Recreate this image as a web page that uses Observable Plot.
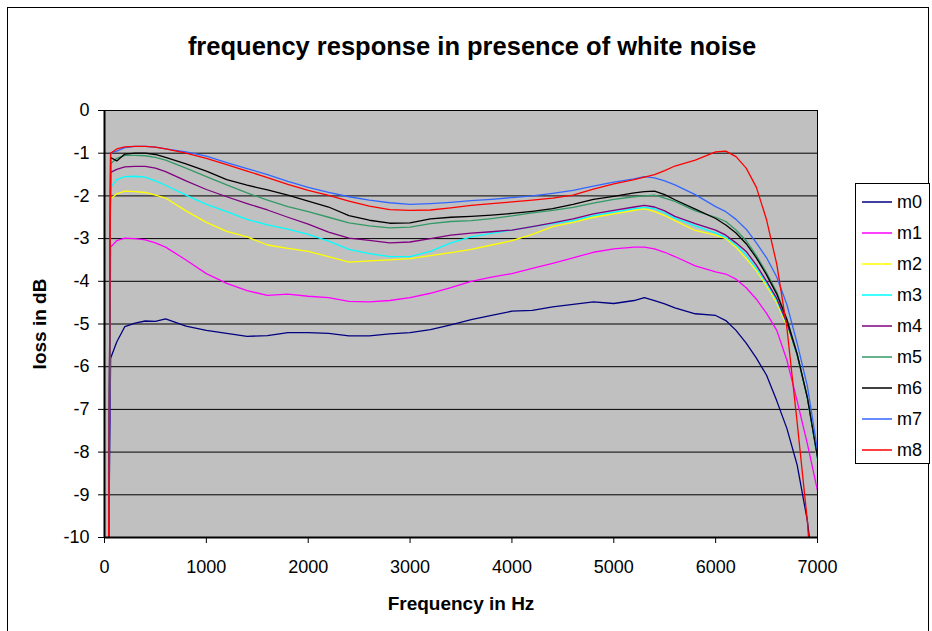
<!DOCTYPE html>
<html>
<head>
<meta charset="utf-8">
<script src="https://cdn.jsdelivr.net/npm/d3@7"></script>
<script src="https://cdn.jsdelivr.net/npm/@observablehq/plot@0.6"></script>
<style>
  html, body { margin: 0; padding: 0; background: #fff; }
  #wrap { position: relative; width: 932px; height: 631px; overflow: hidden; font-family: "Liberation Sans", Arial, sans-serif; }
  #border { position: absolute; left: 7px; top: 7px; width: 922px; height: 700px; border: 1px solid #000; box-sizing: border-box; }
  #title { position: absolute; left: 0; width: 944px; top: 32px; text-align: center; font-weight: bold; font-size: 25.5px; color: #000; }
  #chart { position: absolute; left: 0; top: 0; }
  #chart [aria-label="x-axis label"], #chart [aria-label="y-axis label"] { font-weight: bold; font-size: 19px; }
  #legend { position: absolute; left: 855px; top: 183px; }
</style>
</head>
<body>
<div id="wrap">
  <div id="border"></div>
  <div id="chart"></div>
  <div id="title">frequency response in presence of white noise</div>
  <div id="legend"></div>
</div>
<script>
const freq = [40, 60, 120, 200, 300, 400, 500, 600, 800, 1000, 1200, 1400, 1600, 1800, 2000, 2200, 2400, 2600, 2800, 3000, 3200, 3400, 3600, 3800, 4000, 4200, 4400, 4600, 4800, 5000, 5200, 5300, 5400, 5500, 5600, 5800, 6000, 6100, 6200, 6300, 6400, 6500, 6600, 6700, 6800, 6900, 7000];

const m0 = [-10.5, -5.8, -5.42, -5.06, -4.98, -4.93, -4.94, -4.88, -5.05, -5.15, -5.22, -5.29, -5.27, -5.2, -5.2, -5.22, -5.28, -5.28, -5.23, -5.2, -5.13, -5.02, -4.9, -4.8, -4.7, -4.68, -4.6, -4.54, -4.48, -4.52, -4.45, -4.38, -4.45, -4.53, -4.62, -4.76, -4.8, -4.92, -5.15, -5.45, -5.8, -6.2, -6.8, -7.45, -8.3, -9.6, -11.6];
const m1 = [-10.5, -3.2, -3.05, -2.99, -3.0, -3.03, -3.1, -3.2, -3.5, -3.82, -4.05, -4.22, -4.33, -4.3, -4.35, -4.38, -4.47, -4.48, -4.45, -4.38, -4.28, -4.15, -4.0, -3.9, -3.82, -3.7, -3.58, -3.45, -3.32, -3.24, -3.2, -3.2, -3.24, -3.32, -3.42, -3.64, -3.78, -3.83, -3.95, -4.15, -4.42, -4.75, -5.15, -5.85, -6.8, -7.8, -8.9];
const m2 = [-10.5, -2.07, -1.95, -1.89, -1.9, -1.92, -1.98, -2.05, -2.35, -2.62, -2.83, -2.96, -3.15, -3.23, -3.3, -3.42, -3.55, -3.52, -3.5, -3.47, -3.4, -3.33, -3.25, -3.15, -3.05, -2.9, -2.72, -2.62, -2.5, -2.42, -2.34, -2.3, -2.37, -2.46, -2.58, -2.81, -2.92, -3.0, -3.2, -3.47, -3.75, -4.1, -4.5, -5.05, -5.75, -6.75, -8.2];
const m3 = [-10.5, -1.8, -1.62, -1.55, -1.54, -1.56, -1.65, -1.75, -1.98, -2.2, -2.37, -2.55, -2.68, -2.78, -2.9, -3.06, -3.25, -3.35, -3.42, -3.42, -3.3, -3.1, -2.96, -2.88, -2.8, -2.72, -2.65, -2.58, -2.46, -2.38, -2.3, -2.27, -2.3, -2.4, -2.52, -2.7, -2.87, -2.97, -3.15, -3.38, -3.7, -4.05, -4.45, -5.0, -5.75, -6.75, -8.2];
const m4 = [-10.5, -1.45, -1.38, -1.32, -1.31, -1.31, -1.35, -1.43, -1.65, -1.85, -2.02, -2.18, -2.33, -2.5, -2.66, -2.85, -2.99, -3.04, -3.1, -3.08, -3.0, -2.92, -2.87, -2.84, -2.8, -2.72, -2.63, -2.54, -2.42, -2.34, -2.26, -2.22, -2.26, -2.35, -2.48, -2.65, -2.8, -2.92, -3.1, -3.3, -3.62, -4.0, -4.4, -4.98, -5.72, -6.72, -8.15];
const m5 = [-10.5, -1.25, -1.12, -1.05, -1.05, -1.06, -1.1, -1.16, -1.35, -1.55, -1.74, -1.93, -2.1, -2.25, -2.37, -2.5, -2.63, -2.7, -2.75, -2.73, -2.65, -2.6, -2.58, -2.53, -2.47, -2.4, -2.34, -2.27, -2.17, -2.08, -2.02, -2.0, -1.98, -2.05, -2.13, -2.35, -2.5, -2.6, -2.8, -3.05, -3.4, -3.8, -4.25, -4.88, -5.7, -6.72, -8.1];
const m6 = [-10.5, -1.1, -1.18, -1.02, -1.0, -1.0, -1.03, -1.1, -1.25, -1.42, -1.62, -1.75, -1.86, -1.98, -2.12, -2.26, -2.46, -2.57, -2.64, -2.63, -2.54, -2.5, -2.48, -2.45, -2.41, -2.36, -2.3, -2.2, -2.08, -2.01, -1.93, -1.9, -1.89, -1.97, -2.09, -2.31, -2.53, -2.68, -2.87, -3.12, -3.45, -3.85, -4.3, -4.9, -5.7, -6.72, -8.1];
const m7 = [-10.5, -1.0, -0.95, -0.87, -0.84, -0.84, -0.86, -0.9, -0.97, -1.07, -1.22, -1.36, -1.5, -1.66, -1.8, -1.92, -2.02, -2.1, -2.16, -2.2, -2.18, -2.15, -2.11, -2.08, -2.04, -2.0, -1.94, -1.87, -1.77, -1.68, -1.6, -1.55, -1.58, -1.65, -1.74, -1.97, -2.25, -2.37, -2.55, -2.78, -3.1, -3.45, -3.9, -4.55, -5.45, -6.45, -7.95];
const m8 = [-10.5, -1.0, -0.9, -0.85, -0.84, -0.84, -0.86, -0.9, -1.0, -1.12, -1.27, -1.42, -1.57, -1.73, -1.87, -1.99, -2.12, -2.24, -2.32, -2.34, -2.33, -2.28, -2.22, -2.18, -2.14, -2.1, -2.05, -1.98, -1.84, -1.72, -1.62, -1.56, -1.5, -1.41, -1.3, -1.16, -0.97, -0.95, -1.08, -1.35, -1.8, -2.56, -3.6, -5.1, -7.3, -9.6, -13];

const seriesNames = ["m0", "m1", "m2", "m3", "m4", "m5", "m6", "m7", "m8"];
const seriesColors = ["#000080", "#ff00ff", "#ffff00", "#00ffff", "#800080", "#339966", "#000000", "#3366ff", "#ff0000"];
const seriesValues = [m0, m1, m2, m3, m4, m5, m6, m7, m8];

const xTicks = [0, 1000, 2000, 3000, 4000, 5000, 6000, 7000];
const yTicks = [0, -1, -2, -3, -4, -5, -6, -7, -8, -9, -10];
const yGrid = [-1, -2, -3, -4, -5, -6, -7, -8, -9];

const rows = seriesNames.flatMap((name, k) =>
  freq.map((f, i) => ({ f, v: seriesValues[k][i], name })));

const chart = Plot.plot({
  width: 932,
  height: 631,
  marginLeft: 104,
  marginRight: 115,
  marginTop: 110,
  marginBottom: 94,
  style: { fontFamily: '"Liberation Sans", Arial, sans-serif', fontSize: "18px", color: "#000", background: "transparent", overflow: "visible" },
  x: { domain: [0, 7000] },
  y: { domain: [-10, 0] },
  color: { domain: seriesNames, range: seriesColors },
  marks: [
    Plot.frame({ fill: "#c0c0c0", stroke: null }),
    Plot.ruleY(yGrid, { stroke: "#000", strokeWidth: 1 }),
    Plot.line(rows, { x: "f", y: "v", z: "name", stroke: "name", strokeWidth: 1.3, clip: true }),
    Plot.frame({ stroke: "#000", strokeWidth: 1 }),
    Plot.ruleX([0], { stroke: "#000", strokeWidth: 2 }),
    Plot.ruleY([-10], { stroke: "#000", strokeWidth: 2 }),
    Plot.axisX({ ticks: xTicks, tickSize: 6, tickPadding: 17, tickFormat: d => String(d),
      label: "Frequency in Hz", labelAnchor: "center", labelOffset: 72, labelArrow: "none" }),
    Plot.axisY({ ticks: yTicks, tickSize: 6, tickPadding: 9, tickFormat: d => String(d),
      label: "loss in dB", labelAnchor: "center", labelOffset: 72, labelArrow: "none" })
  ]
});
document.getElementById("chart").appendChild(chart);

// legend
const lw = 75, lh = 281, step = 31;
const lsvg = d3.select("#legend").append("svg").attr("width", lw).attr("height", lh);
lsvg.append("rect").attr("x", 0.5).attr("y", 0.5).attr("width", lw - 1).attr("height", lh - 1)
  .attr("fill", "#fff").attr("stroke", "#000");
seriesNames.forEach((name, i) => {
  const cy = 19 + i * step;
  lsvg.append("line").attr("x1", 7).attr("x2", 37).attr("y1", cy).attr("y2", cy)
    .attr("stroke", seriesColors[i]).attr("stroke-width", 1.5);
  lsvg.append("text").attr("x", 42).attr("y", cy).attr("dy", "0.35em")
    .attr("font-family", '"Liberation Sans", Arial, sans-serif').attr("font-size", 18).text(name);
});
</script>
</body>
</html>
